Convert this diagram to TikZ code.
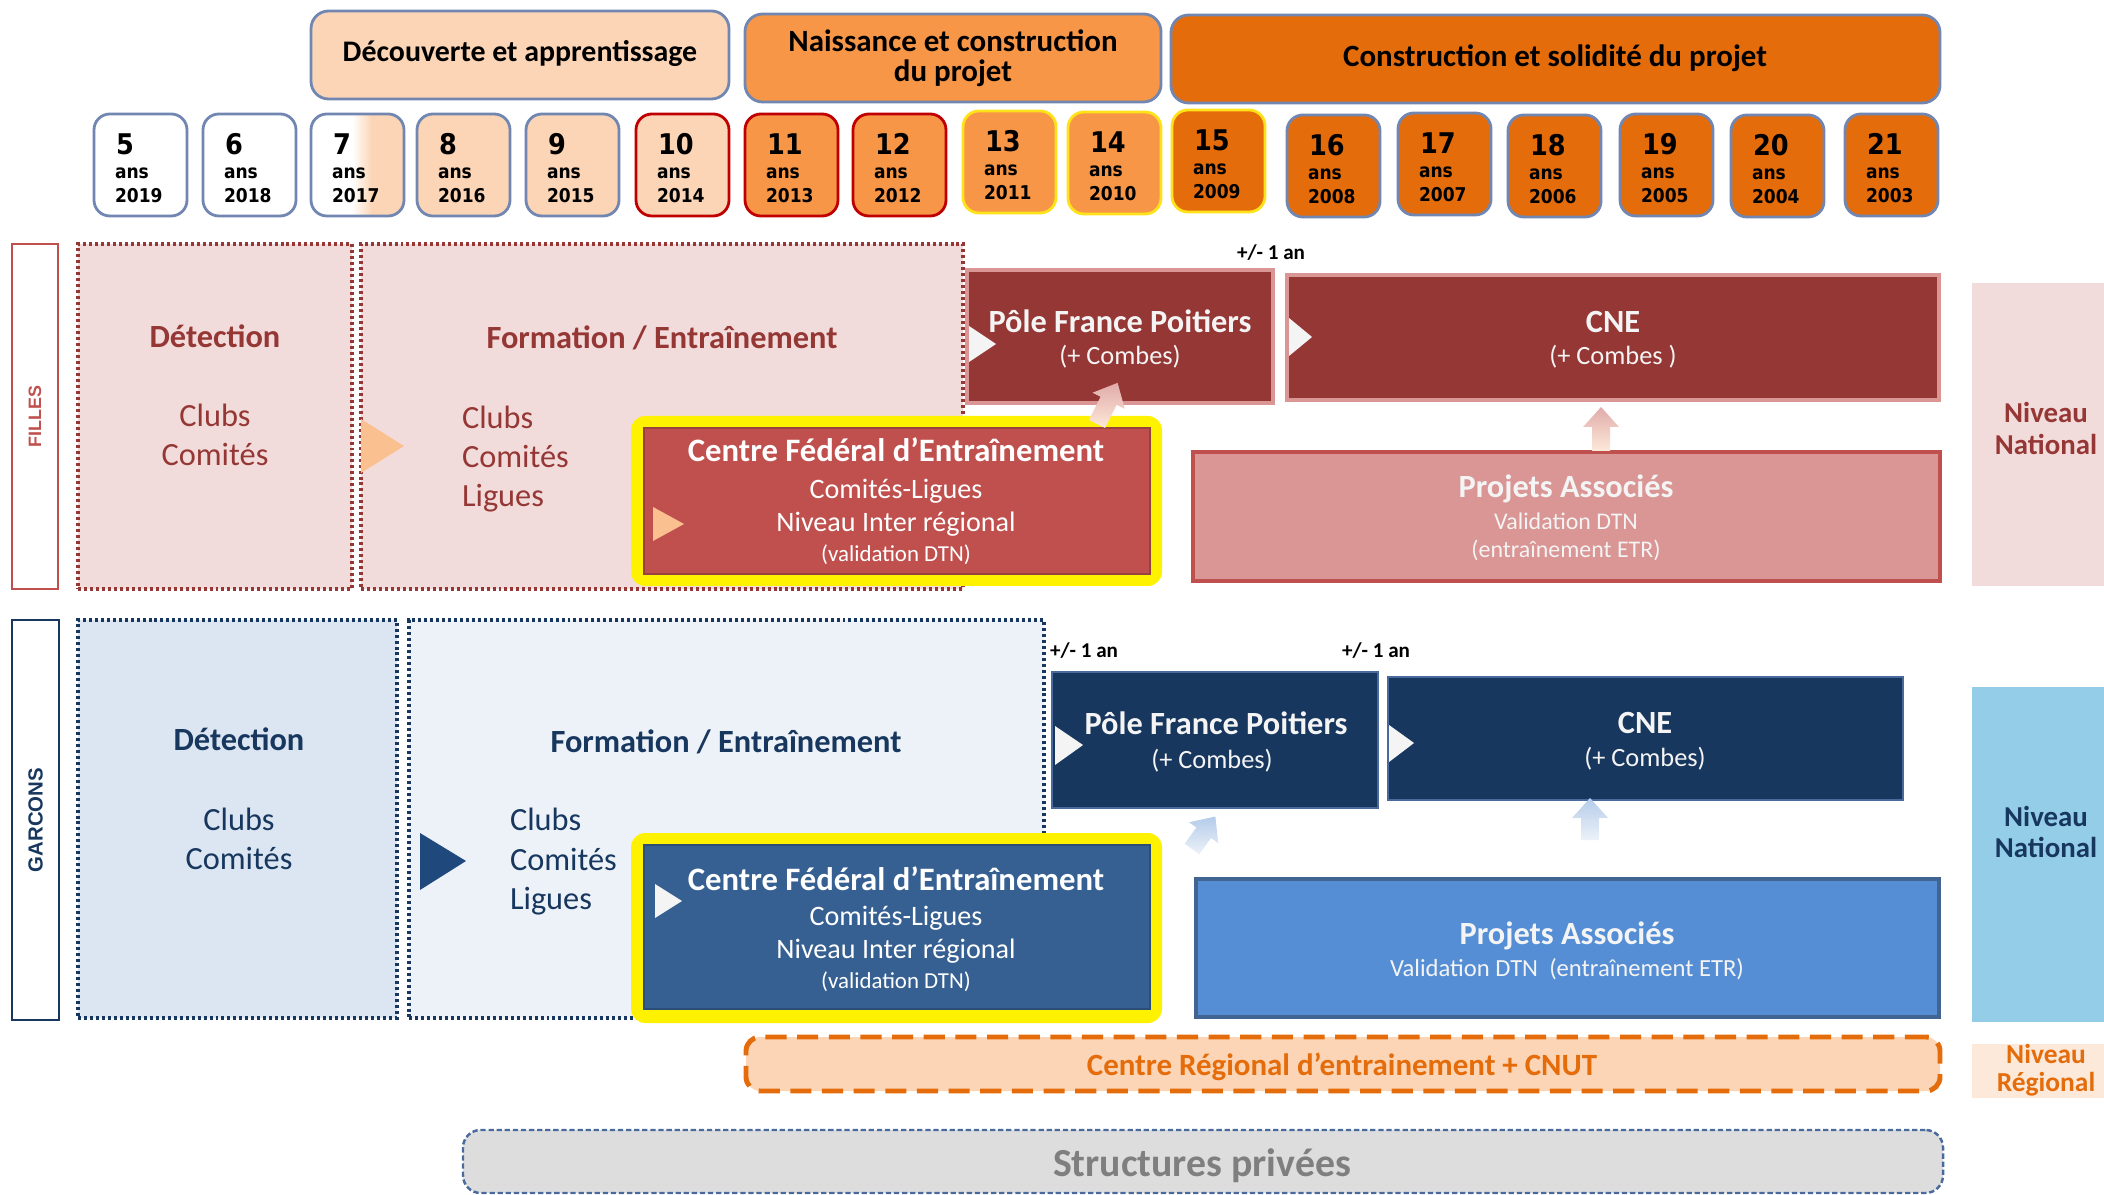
\documentclass[tikz,border=0pt]{standalone}
\usepackage{fontspec}
\setmainfont{Carlito}
\newfontfamily\agefont{DejaVu Sans}[FakeStretch=0.9]
\newfontfamily\labfont{Liberation Sans}
\usetikzlibrary{fit}
\definecolor{peach}{HTML}{FBD5B5}
\definecolor{peachL}{HTML}{FDE9D9}
\definecolor{orangeM}{HTML}{F79646}
\definecolor{orangeD}{HTML}{E46C0A}
\definecolor{bordblue}{HTML}{7187B2}
\definecolor{redB}{HTML}{C00000}
\definecolor{yelB}{HTML}{FFE21A}
\definecolor{pinkL}{HTML}{F2DCDB}
\definecolor{darkred}{HTML}{953735}
\definecolor{redM}{HTML}{C0504D}
\definecolor{pinkM}{HTML}{D99694}
\definecolor{triO}{HTML}{FAC090}
\definecolor{blueL}{HTML}{DCE6F2}
\definecolor{blueLL}{HTML}{EDF2F9}
\definecolor{navy}{HTML}{17375E}
\definecolor{navyT}{HTML}{1F497D}
\definecolor{blueM}{HTML}{376092}
\definecolor{blueP}{HTML}{558ED5}
\definecolor{sky}{HTML}{94CDE8}
\definecolor{greyF}{HTML}{DDDDDD}
\definecolor{greyT}{HTML}{7F7F7F}
\definecolor{dashblue}{HTML}{4A6A9E}
\definecolor{whiteT}{HTML}{F4F4F4}
\newcommand\fttl{\fontsize{9.2}{11}\selectfont\bfseries}
\newcommand\freg{\fontsize{9.2}{11}\selectfont}
\newcommand\blkarrow[6]{%
  \begin{scope}[shift={(#1,#2)}, rotate=#3]
    \shade[top color=#5, bottom color=#6] (-9,0) -- (-9,-#4+20) -- (-18,-#4+20) -- (0,-#4) -- (18,-#4+20) -- (9,-#4+20) -- (9,0) -- cycle;
  \end{scope}}
\begin{document}
\begin{tikzpicture}[x=0.01cm,y=-0.01cm,
  every node/.style={inner sep=0pt, outer sep=0pt},
  ln/.style={anchor=base},
  agebox/.style={draw=#1, line width=0.8pt, rounded corners=4.5pt, inner sep=0pt},
  hdr/.style={draw=bordblue, line width=0.8pt, rounded corners=5pt, inner sep=0pt},
  dotbox/.style={line width=0.9pt, dash pattern=on 0.85pt off 0.85pt, inner sep=0pt},
  wtri/.style={fill=whiteT},
  pm/.style={ln, font=\fontsize{6}{7}\selectfont\bfseries}
]
\useasboundingbox (0,0) rectangle (2104,1195);

% ---------- headers ----------
\node[hdr, fill=peach, fit={(311,11) (729,99)}] (h1) {};
\node[ln, font=\fontsize{8.5}{10}\selectfont\bfseries] (h1t) at (520,62) {Découverte et apprentissage};
\node[hdr, fill=orangeM, fit={(745,14) (1161,102)}] (h2) {};
\node[ln, font=\fontsize{8.8}{10}\selectfont\bfseries] (h2a) at (953,52) {Naissance et construction};
\node[ln, font=\fontsize{8.8}{10}\selectfont\bfseries] (h2b) at (953,82) {du projet};
\node[hdr, fill=orangeD, fit={(1171,15) (1940,103)}] (h3) {};
\node[ln, font=\fontsize{8.8}{10}\selectfont\bfseries] (h3t) at (1555,67) {Construction et solidité du projet};

% ---------- age boxes ----------
\begin{scope}
  \clip[rounded corners=4.5pt] (311,114) rectangle (404,216);
  \fill[white] (311,114) rectangle (404,216);
  \shade[left color=white, right color=peach] (352,114) rectangle (372,216);
  \fill[peach] (372,114) rectangle (404,216);
\end{scope}
\foreach \ax/\ay/\n/\yr/\fc/\bc in {
  94/114/5/2019/white/bordblue, 203/114/6/2018/white/bordblue, 311/114/7/2017/none/bordblue,
  417/114/8/2016/peach/bordblue, 526/114/9/2015/peach/bordblue, 636/114/10/2014/peach/redB,
  745/114/11/2013/orangeM/redB, 853/114/12/2012/orangeM/redB, 963/111/13/2011/orangeM/yelB,
  1068/112/14/2010/orangeM/yelB, 1172/110/15/2009/orangeD/yelB, 1287/115/16/2008/orangeD/bordblue,
  1398/113/17/2007/orangeD/bordblue, 1508/115/18/2006/orangeD/bordblue, 1620/114/19/2005/orangeD/bordblue,
  1731/115/20/2004/orangeD/bordblue, 1845/114/21/2003/orangeD/bordblue}
{
  \node[agebox=\bc, fill=\fc, fit={(\ax,\ay) (\ax+93,\ay+102)}] (age\n) {};
  \node[anchor=base west, font=\agefont\bfseries\fontsize{8.1}{9}\selectfont] (num\n) at (\ax+22,\ay+41) {\n};
  \node[anchor=base west, font=\agefont\bfseries\fontsize{5.4}{6}\selectfont] (ans\n) at (\ax+21,\ay+65) {ans};
  \node[anchor=base west, font=\agefont\bfseries\fontsize{5.4}{6}\selectfont] (yr\n) at (\ax+21,\ay+89) {\yr};
}

% ---------- FILLES ----------
\node[draw=redM, line width=0.8pt, fill=white, fit={(12,244) (58,589)}] (fl) {};
\node[rotate=90, font=\labfont\bfseries\fontsize{5.1}{6}\selectfont, text=redM] (flT) at (fl.center) {FILLES};

\node[dotbox, draw=darkred, fill=pinkL, fit={(78,244) (352,589)}] (fdet) {};
\node[dotbox, draw=darkred, fill=pinkL, fit={(361,244) (963,589)}] (fform) {};
\node[ln, font=\fttl, text=darkred] (fdetT) at (215,348) {Détection};
\node[ln, font=\freg, text=darkred] (fdetA) at (215,427) {Clubs};
\node[ln, font=\freg, text=darkred] (fdetB) at (215,466) {Comités};
\node[ln, font=\fttl, text=darkred] (fformT) at (662,349) {Formation / Entraînement};
\node[anchor=base west, font=\freg, text=darkred] (fformA) at (462,429) {Clubs};
\node[anchor=base west, font=\freg, text=darkred] (fformB) at (462,468) {Comités};
\node[anchor=base west, font=\freg, text=darkred] (fformC) at (462,507) {Ligues};
\fill[triO] (361,419) -- (404,446) -- (361,473) -- cycle;

\node[fill=yellow, rounded corners=4pt, fit={(631,416) (1162,586)}] (fcfeY) {};
\node[fill=redM, draw=redM!80!black, line width=0.5pt, fit={(644,428) (1150,574)}] (fcfe) {};
\node[ln, font=\fontsize{9.3}{10}\selectfont\bfseries, text=white] (fcfe1) at (896,462) {Centre Fédéral d’Entraînement};
\node[ln, font=\fontsize{8}{9}\selectfont, text=white] (fcfe2) at (896,499) {Comités-Ligues};
\node[ln, font=\fontsize{8}{9}\selectfont, text=white] (fcfe3) at (896,532) {Niveau Inter régional};
\node[ln, font=\fontsize{6.5}{7}\selectfont, text=white] (fcfe4) at (896,562) {(validation DTN)};
\fill[triO] (653,507) -- (684,524) -- (653,541) -- cycle;

\node[fill=darkred, draw=pinkM, line width=1.1pt, fit={(967,270) (1273,403)}] (fpole) {};
\node[ln, font=\fttl, text=whiteT] (fpole1) at (1120,333) {Pôle France Poitiers};
\node[ln, font=\fontsize{7.5}{8}\selectfont, text=whiteT] (fpole2) at (1120,365) {(+ Combes)};
\fill[wtri] (969,326) -- (996,344) -- (969,362) -- cycle;
\node[pm] (fpm) at (1271,260) {+/- 1 an};

\node[fill=darkred, draw=pinkM, line width=1.1pt, fit={(1287,275) (1939,400)}] (fcne) {};
\node[ln, font=\fttl, text=whiteT] (fcne1) at (1613,333) {CNE};
\node[ln, font=\fontsize{7.5}{8}\selectfont, text=whiteT] (fcne2) at (1613,365) {(+ Combes )};
\fill[wtri] (1289,318) -- (1312,337) -- (1289,356) -- cycle;

\node[fill=pinkM, draw=redM, line width=1.1pt, fit={(1193,452) (1940,581)}] (fproj) {};
\node[ln, font=\fttl, text=whiteT] (fproj1) at (1566,498) {Projets Associés};
\node[ln, font=\fontsize{6.8}{8}\selectfont, text=whiteT] (fproj2) at (1566,530) {Validation DTN};
\node[ln, font=\fontsize{6.8}{8}\selectfont, text=whiteT] (fproj3) at (1566,558) {(entraînement ETR)};

\blkarrow{1601}{451}{0}{44}{pinkM!80}{peachL}
\blkarrow{1097}{424}{-26.6}{46}{pinkM!80}{peachL}

\node[fill=pinkL, fit={(1972,283) (2104,586)}] (fnat) {};
\node[ln, font=\fontsize{8.2}{9}\selectfont\bfseries, text=darkred] (fnat1) at (2046,423) {Niveau};
\node[ln, font=\fontsize{8.2}{9}\selectfont\bfseries, text=darkred] (fnat2) at (2046,455) {National};

% ---------- GARCONS ----------
\node[draw=navy, line width=0.8pt, fill=white, fit={(12,620) (59,1020)}] (gl) {};
\node[rotate=90, font=\labfont\bfseries\fontsize{5.8}{6}\selectfont, text=navy] (glT) at (gl.center) {GARCONS};

\node[dotbox, draw=navy, fill=blueL, fit={(78,620) (397,1018)}] (gdet) {};
\node[dotbox, draw=navy, fill=blueLL, fit={(409,620) (1044,1018)}] (gform) {};
\node[ln, font=\fttl, text=navy] (gdetT) at (239,751) {Détection};
\node[ln, font=\freg, text=navy] (gdetA) at (239,830) {Clubs};
\node[ln, font=\freg, text=navy] (gdetB) at (239,869) {Comités};
\node[ln, font=\fttl, text=navy] (gformT) at (726,752) {Formation / Entraînement};
\node[anchor=base west, font=\freg, text=navy] (gformA) at (510,830) {Clubs};
\node[anchor=base west, font=\freg, text=navy] (gformB) at (510,870) {Comités};
\node[anchor=base west, font=\freg, text=navy] (gformC) at (510,909) {Ligues};
\fill[navyT] (420,833) -- (466,861) -- (420,890) -- cycle;

\node[fill=yellow, rounded corners=4pt, fit={(631,833) (1162,1023)}] (gcfeY) {};
\node[fill=blueM, draw=blueM!80!black, line width=0.5pt, fit={(644,845) (1150,1009)}] (gcfe) {};
\node[ln, font=\fontsize{9.3}{10}\selectfont\bfseries, text=white] (gcfe1) at (896,890) {Centre Fédéral d’Entraînement};
\node[ln, font=\fontsize{8}{9}\selectfont, text=white] (gcfe2) at (896,925) {Comités-Ligues};
\node[ln, font=\fontsize{8}{9}\selectfont, text=white] (gcfe3) at (896,958) {Niveau Inter régional};
\node[ln, font=\fontsize{6.5}{7}\selectfont, text=white] (gcfe4) at (896,988) {(validation DTN)};
\fill[wtri] (655,884) -- (682,901) -- (655,918) -- cycle;

\node[fill=navy, draw=dashblue, line width=0.8pt, fit={(1052,672) (1378,808)}] (gpole) {};
\node[ln, font=\fttl, text=whiteT] (gpole1) at (1216,735) {Pôle France Poitiers};
\node[ln, font=\fontsize{7.5}{8}\selectfont, text=whiteT] (gpole2) at (1212,768) {(+ Combes)};
\fill[wtri] (1055,726) -- (1083,745) -- (1055,765) -- cycle;
\node[pm, anchor=base west] (gpm1) at (1050,658) {+/- 1 an};
\node[pm, anchor=base west] (gpm2) at (1342,658) {+/- 1 an};

\node[fill=navy, draw=dashblue, line width=0.8pt, fit={(1388,677) (1903,800)}] (gcne) {};
\node[ln, font=\fttl, text=whiteT] (gcne1) at (1645,733) {CNE};
\node[ln, font=\fontsize{7.5}{8}\selectfont, text=whiteT] (gcne2) at (1645,766) {(+ Combes)};
\fill[wtri] (1389,725) -- (1414,743) -- (1389,762) -- cycle;

\node[fill=blueP, draw=navyT!85, line width=1.1pt, fit={(1196,879) (1939,1017)}] (gproj) {};
\node[ln, font=\fttl, text=whiteT] (gproj1) at (1567,944) {Projets Associés};
\node[ln, font=\fontsize{7}{8}\selectfont, text=whiteT] (gproj2) at (1567,976) {Validation DTN~~(entraînement ETR)};

\blkarrow{1590}{840}{0}{42}{blueL!70!blueP}{blueLL}
\blkarrow{1192}{849}{-35.7}{40}{blueL!70!blueP}{blueLL}

\node[fill=sky, fit={(1972,687) (2104,1022)}] (gnat) {};
\node[ln, font=\fontsize{8.2}{9}\selectfont\bfseries, text=navy] (gnat1) at (2046,826) {Niveau};
\node[ln, font=\fontsize{8.2}{9}\selectfont\bfseries, text=navy] (gnat2) at (2046,857) {National};

% ---------- bottom ----------
\node[fill=peach, draw=orangeD, line width=1.4pt, dash pattern=on 6pt off 3pt, rounded corners=4pt, fit={(746,1037) (1940,1091)}] (creg) {};
\node[ln, font=\fontsize{8.8}{10}\selectfont\bfseries, text=orangeD] (cregT) at (1342,1075) {Centre Régional d’entrainement + CNUT};
\node[fill=peachL, fit={(1972,1044) (2104,1098)}] (nreg) {};
\node[ln, font=\fontsize{7.8}{8}\selectfont\bfseries, text=orangeD] (nreg1) at (2046,1063) {Niveau};
\node[ln, font=\fontsize{7.8}{8}\selectfont\bfseries, text=orangeD] (nreg2) at (2046,1091) {Régional};

\node[fill=greyF, draw=dashblue, line width=0.7pt, dash pattern=on 1.5pt off 0.8pt, rounded corners=5pt, fit={(463,1130) (1943,1193)}] (spriv) {};
\node[ln, font=\fontsize{11.3}{12}\selectfont\bfseries, text=greyT] (sprivT) at (1202,1176) {Structures privées};
\end{tikzpicture}
\end{document}
